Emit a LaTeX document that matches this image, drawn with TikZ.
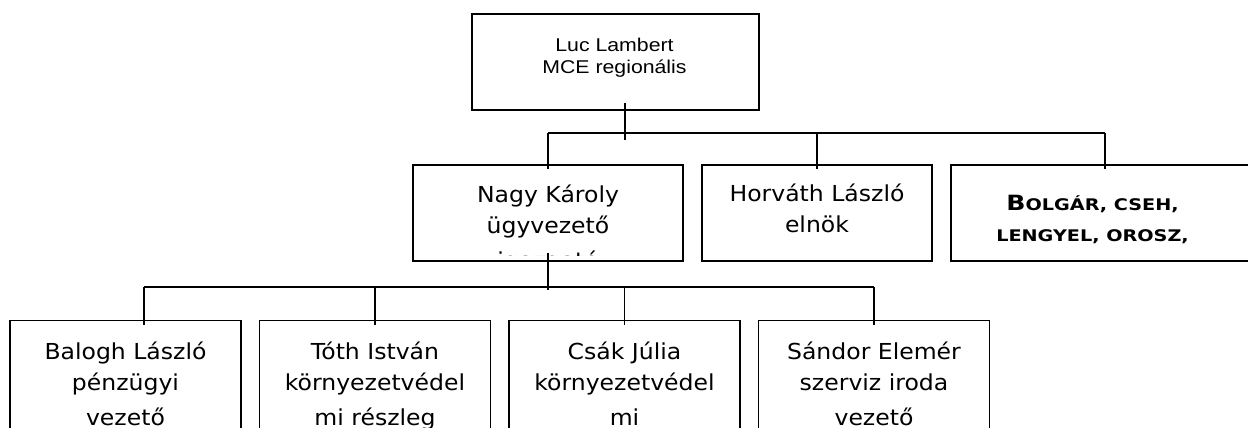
\documentclass[tikz,border=0pt]{standalone}
\usepackage{fontspec}
\usetikzlibrary{positioning}
\newfontfamily\verdfont[FakeStretch=1.07]{DejaVu Sans}
\newfontfamily\verdbfont[FakeStretch=1.2]{DejaVu Sans Bold}
\newfontfamily\arialfont[FakeStretch=1.15]{Liberation Sans}

\begin{document}
\begin{tikzpicture}[
		x=1pt, y=-1pt,
		node distance=19pt,
		orgbox/.style={draw, line width=1.8pt, inner sep=0pt, outer sep=0pt, minimum height=96pt},
		lowbox/.style={orgbox, minimum width=231pt, minimum height=139pt},
		vtext/.style={font=\verdfont\fontsize{22}{31}\selectfont, align=center, anchor=base, inner sep=0pt},
		atext/.style={font=\arialfont\fontsize{18.5}{21.6}\selectfont, align=center, anchor=base, inner sep=0pt},
		link/.style={line width=1.8pt}
	]
	\useasboundingbox (0,0) rectangle (1248,428);
	\clip (0,0) rectangle (1248,428);

	% boxes
	\node[orgbox, minimum width=287pt] (lambert) at (615.5,62) {};
	\node[orgbox, minimum width=270pt] (nagy) at (548,213) {};
	\node[orgbox, minimum width=230pt, right=of nagy] (horvath) {};
	\node[orgbox, minimum width=308pt, right=of horvath] (bolgar) {};
	\node[lowbox] (balogh) at (125.5,390) {};
	\node[lowbox, right=18.5pt of balogh] (toth) {};
	\node[lowbox, right=18.5pt of toth] (csak) {};
	\node[lowbox, right=18.5pt of csak] (sandor) {};

	% texts (base = last line)
	\node[atext] (lambert-t) at (614.5,73.3) {Luc Lambert\\MCE regionális};
	\begin{scope}
		\clip ([shift={(0,-6)}]nagy.south west) rectangle (nagy.north east);
		\node[vtext] (nagy-t) at (548,268.7) {Nagy Károly\\ügyvezető\\[4pt]igazgató};
	\end{scope}
	\node[vtext] (horvath-t) at (817,232.7) {Horváth László\\elnök};
	\node[vtext, font=\verdbfont\fontsize{16}{31}\selectfont] (bolgar-t) at (1092.5,241.7)
		{{\fontsize{21}{31}\selectfont B}OLGÁR, CSEH,\\LENGYEL, OROSZ,};
	\node[vtext] (balogh-t) at (125.5,425) {Balogh László\\pénzügyi\\[4pt]vezető};
	\node[vtext] (toth-t) at (375,425) {Tóth István\\környezetvédel\\[4pt]mi részleg};
	\node[vtext] (csak-t) at (624.5,425) {Csák Júlia\\környezetvédel\\[4pt]mi};
	\node[vtext] (sandor-t) at (874,425) {Sándor Elemér\\szerviz iroda\\[4pt]vezető};

	% upper level
	\coordinate (topbus) at (625,133);
	\draw[link, shorten <=-7pt, shorten >=-7pt] (topbus |- lambert.south) -- (topbus);
	\draw[link] (nagy.north |- topbus) -- (bolgar.north |- topbus);
	\draw[link, shorten >=-4pt] (nagy.north |- topbus) -- (nagy.north);
	\draw[link, shorten >=-4pt] (horvath.north |- topbus) -- (horvath.north);
	\draw[link, shorten >=-4pt] (bolgar.north |- topbus) -- (bolgar.north);

	% lower level
	\coordinate (lowbus) at (548,287);
	\coordinate (balogh-in) at ([xshift=18.5pt]balogh.north);
	\draw[link, shorten <=-8pt, shorten >=-3pt] (nagy.south) -- (lowbus);
	\draw[link] (balogh-in |- lowbus) -- (sandor.north |- lowbus);
	\draw[link, shorten >=-4pt] (balogh-in |- lowbus) -- (balogh-in);
	\draw[link, shorten >=-4pt] (toth.north |- lowbus) -- (toth.north);
	\draw[link, shorten >=-4pt] (csak.north |- lowbus) -- (csak.north);
	\draw[link, shorten >=-4pt] (sandor.north |- lowbus) -- (sandor.north);
\end{tikzpicture}
\end{document}
